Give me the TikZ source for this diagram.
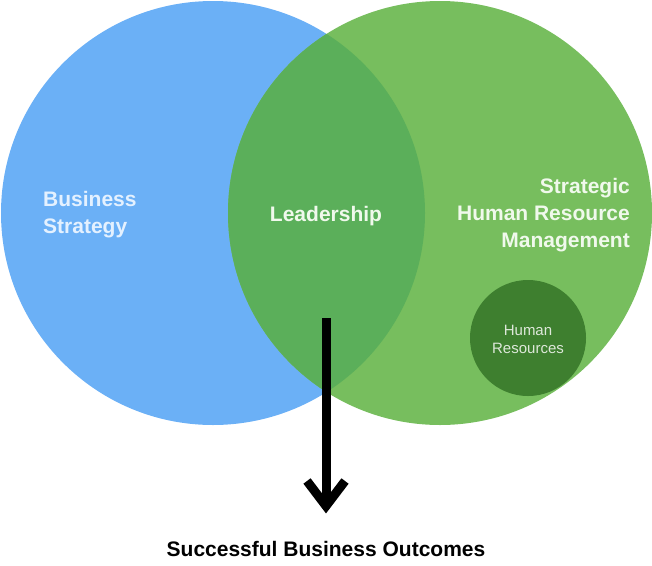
\documentclass[tikz,border=0pt]{standalone}
\usepackage{fontspec}
\setmainfont{Liberation Sans}
\definecolor{bluec}{RGB}{107,176,246}
\definecolor{greenc}{RGB}{119,190,94}
\definecolor{overlapc}{RGB}{91,175,90}
\definecolor{darkc}{RGB}{62,127,47}
\definecolor{bluetext}{RGB}{228,241,255}
\definecolor{greentext}{RGB}{240,249,236}
\definecolor{hrtext}{RGB}{222,232,218}
\begin{document}
\begin{tikzpicture}[x=1pt,y=-1pt,
  lbl/.style={font=\fontsize{21}{27}\selectfont\bfseries, inner sep=0pt},
  arrowline/.style={line width=9pt, black}]
\useasboundingbox (0,0) rectangle (652,565);
% circles
\fill[bluec] (213,213) circle (212);
\fill[greenc] (440,213) circle (212);
\begin{scope}
  \clip (213,213) circle (212);
  \fill[overlapc] (440,213) circle (212);
\end{scope}
\fill[darkc] (528,338) circle (58);
% labels
\node[lbl, text=bluetext, align=left, anchor=west] (bs) at (43,215) {Business\\Strategy};
\node[lbl, text=greentext] (lead) at (326,216) {Leadership};
\node[lbl, text=greentext, align=right, anchor=east] (shrm) at (630,215) {Strategic\\Human Resource\\Management};
\node[inner sep=0pt, text=hrtext, align=center, font=\fontsize{15}{18}\selectfont] (hr) at (528,339) {Human\\Resources};
\node[inner sep=0pt, font=\fontsize{21}{24}\selectfont\bfseries] (out) at (326,549) {Successful Business Outcomes};
% arrow
\coordinate (astart) at (326,318);
\coordinate (atip) at (326,506);
\coordinate (aleft) at (307,481);
\coordinate (aright) at (345,481);
\draw[arrowline] (astart) -- (atip);
\draw[arrowline, line join=miter] (aleft) -- (atip) -- (aright);
\end{tikzpicture}
\end{document}
